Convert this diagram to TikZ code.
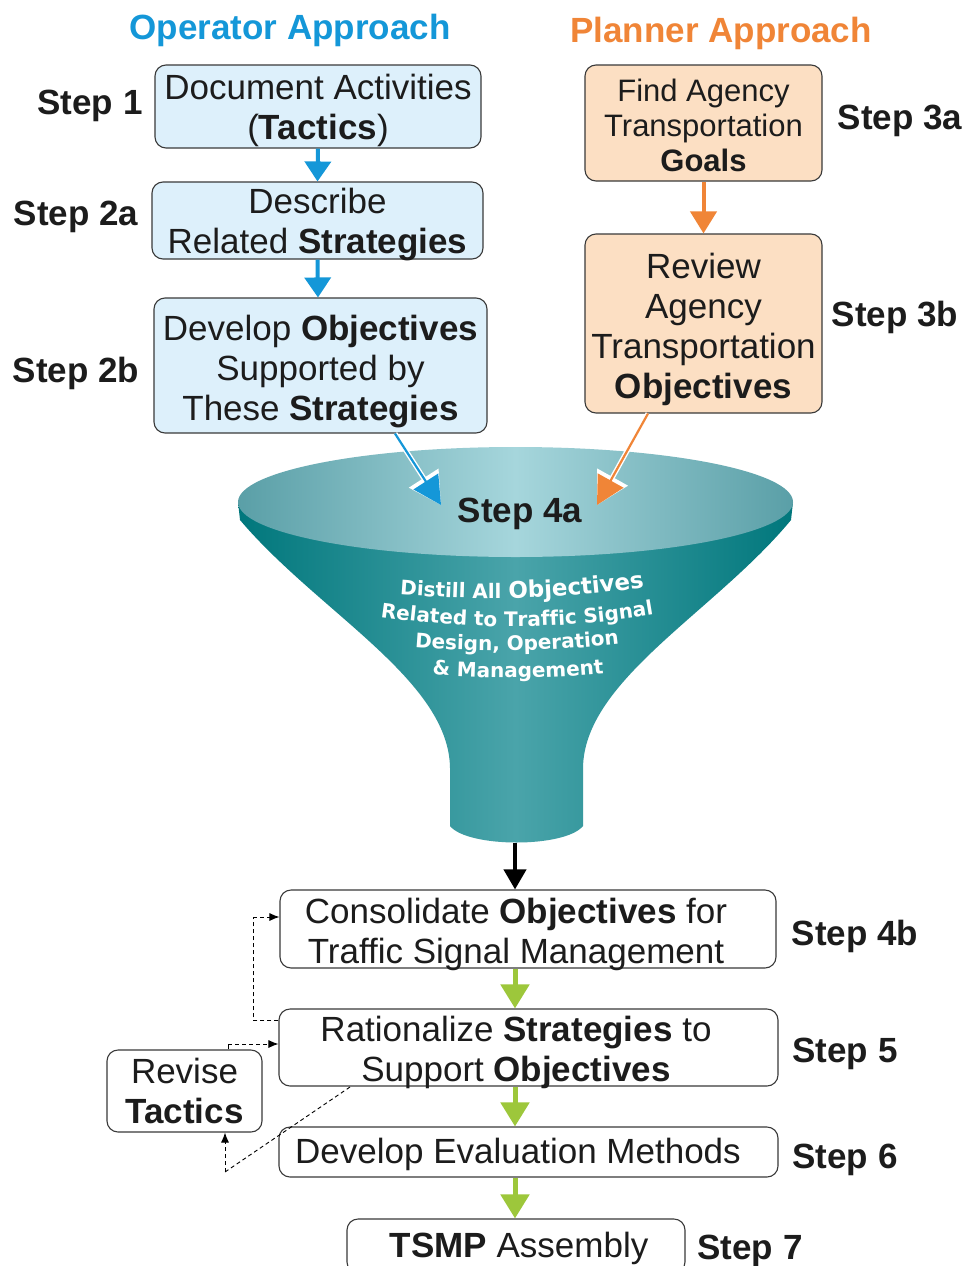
\documentclass[tikz,border=0pt]{standalone}
\usepackage{fontspec}
\setmainfont{Liberation Sans}
\newfontfamily\dvs{DejaVu Sans}
\usetikzlibrary{arrows.meta,calc,decorations.text}
\definecolor{opblue}{HTML}{1497D8}
\definecolor{plorange}{HTML}{F08537}
\definecolor{boxblue}{HTML}{DDF0FB}
\definecolor{boxorange}{HTML}{FCDFC3}
\definecolor{lgreen}{HTML}{9DC73B}
\definecolor{tealdark}{HTML}{00777C}
\definecolor{tealmid}{HTML}{4AA4AA}
\definecolor{rimdark}{HTML}{5A9FA7}
\definecolor{rimlight}{HTML}{A6D6DC}
\definecolor{edgegray}{HTML}{3A3A3A}
\definecolor{txt}{HTML}{1C1C1C}
\newcommand\ftxt{\dvs\bfseries\fontsize{20}{22}\selectfont}
\newcommand\ftxtb{\dvs\bfseries\fontsize{23}{24}\selectfont}
\begin{document}
\begin{tikzpicture}[x=1pt,y=-1pt,
  box/.style={draw=edgegray, line width=1.1pt, rounded corners=11pt, inner sep=0pt},
  boxtext/.style={align=center, inner sep=0pt, text=txt, font=\fontsize{35}{40}\selectfont},
  steplbl/.style={font=\fontsize{35}{40}\selectfont\bfseries, text=txt, inner sep=0pt},
  title/.style={font=\fontsize{35}{40}\selectfont\bfseries, inner sep=0pt},
  bluearrow/.style={draw=opblue, line width=4pt, -{Triangle[width=26pt,length=20pt]}},
  orangearrow/.style={draw=plorange, line width=4pt, -{Triangle[width=26pt,length=22pt]}},
  greenarrow/.style={draw=lgreen, line width=5pt, -{Triangle[width=28pt,length=24pt]}},
  blackarrow/.style={draw=black, line width=4pt, -{Triangle[width=22pt,length=20pt]}},
  dasharrow/.style={draw=black, line width=0.9pt, dash pattern=on 4pt off 3pt, -{Latex[length=10pt,width=8pt]}},
  dashline/.style={draw=black, line width=0.9pt, dash pattern=on 4pt off 3pt},
  arctext/.style={decorate, decoration={text along path, text align=center, text color=white}}
]
\useasboundingbox (0,0) rectangle (968,1266);
\fill[white] (0,0) rectangle (968,1266);

% titles
\node[title, text=opblue] (t1) at (290,30) {Operator Approach};
\node[title, text=plorange] (t2) at (721,33) {Planner Approach};

% operator boxes
\node[box, fill=boxblue, minimum width=326pt, minimum height=83pt] (b1) at (318,106.5) {};
\node[boxtext] (b1t) at (318,110.5) {Document Activities\\(\textbf{Tactics})};
\node[box, fill=boxblue, minimum width=331pt, minimum height=77pt] (b2) at (317.5,220.5) {};
\node[boxtext] (b2t) at (317.5,224.5) {Describe\\Related \textbf{Strategies}};
\node[box, fill=boxblue, minimum width=333pt, minimum height=135pt] (b3) at (320.5,365.5) {};
\node[boxtext] (b3t) at (320.5,371.5) {Develop \textbf{Objectives}\\Supported by\\These \textbf{Strategies}};

% planner boxes
\node[box, fill=boxorange, minimum width=237pt, minimum height=116pt] (b3a) at (703.5,123) {};
\node[boxtext, font=\fontsize{31}{35}\selectfont] (b3at) at (703.5,125) {Find Agency\\Transportation\\\textbf{Goals}};
\node[box, fill=boxorange, minimum width=237pt, minimum height=179pt] (b3b) at (703.5,323.5) {};
\node[boxtext] (b3bt) at (703.5,329.5) {Review\\Agency\\Transportation\\\textbf{Objectives}};

% step labels
\node[steplbl] (s1) at (90,106) {Step 1};
\node[steplbl] (s2a) at (76,217) {Step 2a};
\node[steplbl] (s2b) at (76,373) {Step 2b};
\node[steplbl] (s3a) at (900,121) {Step 3a};
\node[steplbl] (s3b) at (895,317) {Step 3b};

% arrows top
\draw[bluearrow] (b1.south) -- (b2.north);
\draw[bluearrow] (b2.south) -- ([xshift=-2.5pt]b3.north);
\draw[orangearrow] (b3a.south) -- (b3b.north);

% funnel body
\shade[left color=tealdark, right color=tealdark, middle color=tealmid]
  (238,502) -- (240,520) .. controls (318,612) and (449,680) .. (450,768)
  -- (450,826) .. controls (468,848) and (565,848) .. (583,826)
  -- (583,768) .. controls (584,680) and (715,612) .. (791,520)
  -- (793,502) -- cycle;
% funnel top
\shade[left color=rimdark, right color=rimdark, middle color=rimlight]
  (515.5,502) ellipse [x radius=277.5pt, y radius=55pt];
\coordinate (fb) at (515,843);

% funnel text
\node[steplbl] (s4a) at (520,514) {Step 4a};
\path[arctext, decoration={text={|\ftxt|Distill All |\ftxtb|Objectives}}]
  (372,592) .. controls (470,602) and (570,601) .. (672,583);
\path[arctext, decoration={text={|\ftxt|Related to Traffic Signal}}]
  (360,614) .. controls (460,631) and (575,631) .. (674,611);
\path[arctext, decoration={text={|\ftxt|Design, Operation}}]
  (400,646) .. controls (470,653) and (565,652) .. (634,642);
\path[arctext, decoration={text={|\ftxt|{\&} Management}}]
  (420,674) .. controls (480,679) and (556,679) .. (616,672);

% diagonal arrows into funnel
\coordinate (fin1) at (441,505);
\coordinate (fin2) at (597,505);
\draw[draw=white, line width=5pt, -{Triangle[width=34pt,length=32pt]}] ([xshift=74.5pt]b3.south) -- (fin1);
\draw[draw=opblue, line width=2.2pt, -{Triangle[width=29pt,length=28pt]}] ([xshift=74.5pt]b3.south) -- (fin1);
\draw[draw=white, line width=5pt, -{Triangle[width=34pt,length=32pt]}] ([xshift=-55.5pt]b3b.south) -- (fin2);
\draw[draw=plorange, line width=2.2pt, -{Triangle[width=29pt,length=28pt]}] ([xshift=-55.5pt]b3b.south) -- (fin2);

% lower boxes
\node[box, fill=white, minimum width=496pt, minimum height=78pt] (b4b) at (528,929) {};
\node[boxtext] (b4bt) at (516,934) {Consolidate \textbf{Objectives} for\\Traffic Signal Management};
\node[box, fill=white, minimum width=499pt, minimum height=77pt] (b5) at (528.5,1047.5) {};
\node[boxtext] (b5t) at (516,1052.5) {Rationalize \textbf{Strategies} to\\Support \textbf{Objectives}};
\node[box, fill=white, minimum width=499pt, minimum height=50pt] (b6) at (528.5,1152) {};
\node[boxtext] (b6t) at (518,1154) {Develop Evaluation Methods};
\node[box, fill=white, minimum width=338pt, minimum height=54pt] (b7) at (516,1246) {};
\node[boxtext] (b7t) at (519,1248) {\textbf{TSMP} Assembly};
\node[box, fill=white, minimum width=155pt, minimum height=82pt] (rt) at (184.5,1091) {};
\node[boxtext] (rtt) at (184.5,1091) {Revise\\\textbf{Tactics}};

\node[steplbl] (s4b) at (855,936) {Step 4b};
\node[steplbl] (s5) at (845,1054) {Step 5};
\node[steplbl] (s6) at (845,1160) {Step 6};
\node[steplbl] (s7) at (750,1251) {Step 7};

% flow arrows
\draw[blackarrow] (fb) -- (b4b.north -| fb);
\draw[greenarrow] (b4b.south -| fb) -- (b5.north -| fb);
\draw[greenarrow] (b5.south -| fb) -- (b6.north -| fb);
\draw[greenarrow] (b6.south -| fb) -- (b7.north -| fb);

% dashed feedback
\coordinate (d1) at (253,1020);
\coordinate (d2) at (253,917);
\draw[dashline] (b5.west |- d1) -- (d1) -- (d2);
\draw[dasharrow] (d2) -- (b4b.west |- d2);
\coordinate (d3) at (228,1044);
\draw[dashline] (rt.north -| d3) -- (d3);
\draw[dasharrow] (d3) -- (b5.west |- d3);
\coordinate (d4) at (350,1087);
\coordinate (d5) at (225,1172);
\draw[dashline] (d4) -- (d5);
\draw[dasharrow] (d5) -- (rt.south -| d5);
\end{tikzpicture}
\end{document}
